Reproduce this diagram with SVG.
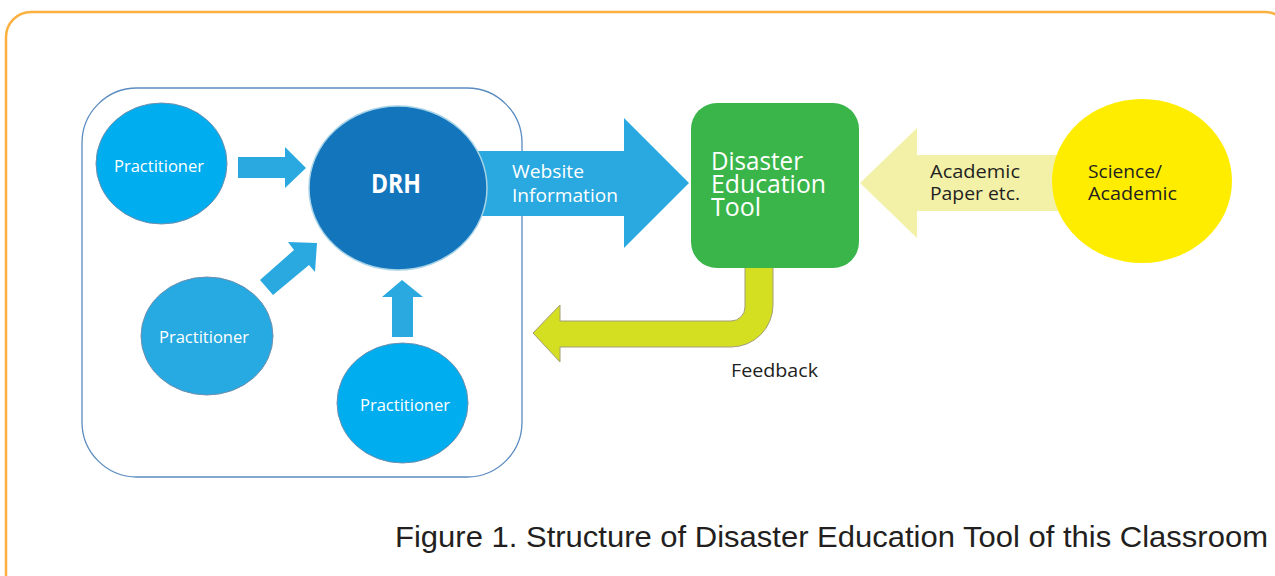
<svg xmlns="http://www.w3.org/2000/svg" width="1275" height="576" viewBox="0 0 1275 576">
<style>
.wt{fill:#ffffff;font-family:"Open Sans","Noto Sans",sans-serif}
.dk{fill:#231f20;font-family:"Open Sans","Noto Sans",sans-serif}
.pr{font-size:16.5px}
.arrow{fill:#29a9e0}
.circ{stroke:#6f8fae;stroke-width:1}
</style>
<rect x="6" y="12" width="1284" height="590" rx="25" fill="none" stroke="#fbb040" stroke-width="2.5"/>
<rect x="82" y="88" width="440" height="389" rx="55" fill="none" stroke="#5b8cc0" stroke-width="1.3"/>
<g id="connectors">
<polygon class="arrow" points="238,157 285,157 285,147 306,168 285,188 285,178 238,178"/>
<polygon class="arrow" points="260,280 294,250 288,242 317,243 315,272 309,265 273,295"/>
<polygon class="arrow" points="392,337 392,297 382,297 402,280 423,297 413,297 413,337"/>
<polygon class="arrow" points="470,151 624,151 624,118 689,183 624,248 624,216 470,216"/>
<polygon fill="#f3f1a8" points="1070,155 917,155 917,128 860,183 917,238 917,211 1070,211"/>
<path d="M773,260 L773,305 A42,42 0 0 1 731,347 L560,347 L560,362 L533,333 L560,305 L560,321 L731,321 A14,14 0 0 0 745,307 L745,260 Z" fill="#d5df21" stroke="#a39e77" stroke-width="1"/>
</g>
<g id="practitioner1">
<ellipse class="circ" cx="161.5" cy="163.5" rx="65.5" ry="60.5" fill="#00adee"/>
<text class="wt pr" x="114" y="172" textLength="90" lengthAdjust="spacingAndGlyphs">Practitioner</text>
</g>
<g id="practitioner2">
<ellipse class="circ" cx="207" cy="336" rx="66" ry="59" fill="#27a9e1"/>
<text class="wt pr" x="159" y="343" textLength="90" lengthAdjust="spacingAndGlyphs">Practitioner</text>
</g>
<g id="practitioner3">
<ellipse class="circ" cx="402.5" cy="403" rx="65.5" ry="60" fill="#00adee"/>
<text class="wt pr" x="360" y="411" textLength="90" lengthAdjust="spacingAndGlyphs">Practitioner</text>
</g>
<g id="drh">
<ellipse cx="398" cy="188" rx="89" ry="82" fill="#1375bc" stroke="#a9d3e6" stroke-width="1.5"/>
<text class="wt" x="371" y="193" font-size="26" font-weight="bold" textLength="50" lengthAdjust="spacingAndGlyphs">DRH</text>
</g>
<g id="website-label">
<text class="wt" x="512" y="178" font-size="19" textLength="72" lengthAdjust="spacingAndGlyphs">Website</text>
<text class="wt" x="512" y="202" font-size="19" textLength="106" lengthAdjust="spacingAndGlyphs">Information</text>
</g>
<g id="tool">
<rect x="691" y="103" width="168" height="165" rx="26" fill="#3ab54a"/>
<text class="wt" x="711" y="170" font-size="26" textLength="92" lengthAdjust="spacingAndGlyphs">Disaster</text>
<text class="wt" x="711" y="193" font-size="26" textLength="115" lengthAdjust="spacingAndGlyphs">Education</text>
<text class="wt" x="711" y="216" font-size="26" textLength="50" lengthAdjust="spacingAndGlyphs">Tool</text>
</g>
<g id="academic-label">
<text class="dk" x="930" y="178" font-size="19" textLength="90" lengthAdjust="spacingAndGlyphs">Academic</text>
<text class="dk" x="930" y="200" font-size="19" textLength="90" lengthAdjust="spacingAndGlyphs">Paper etc.</text>
</g>
<g id="science">
<ellipse cx="1142" cy="181" rx="90" ry="82" fill="#ffed00"/>
<text class="dk" x="1088" y="178" font-size="19" textLength="74" lengthAdjust="spacingAndGlyphs">Science/</text>
<text class="dk" x="1088" y="200" font-size="19" textLength="89" lengthAdjust="spacingAndGlyphs">Academic</text>
</g>
<g id="feedback-label">
<text class="dk" x="731" y="377" font-size="18" textLength="87" lengthAdjust="spacingAndGlyphs">Feedback</text>
</g>
<g id="caption">
<text class="dk" x="395" y="547" font-size="29" textLength="873" lengthAdjust="spacingAndGlyphs" style="font-family:'Liberation Sans','DejaVu Sans',sans-serif">Figure 1. Structure of Disaster Education Tool of this Classroom</text>
</g>
</svg>
